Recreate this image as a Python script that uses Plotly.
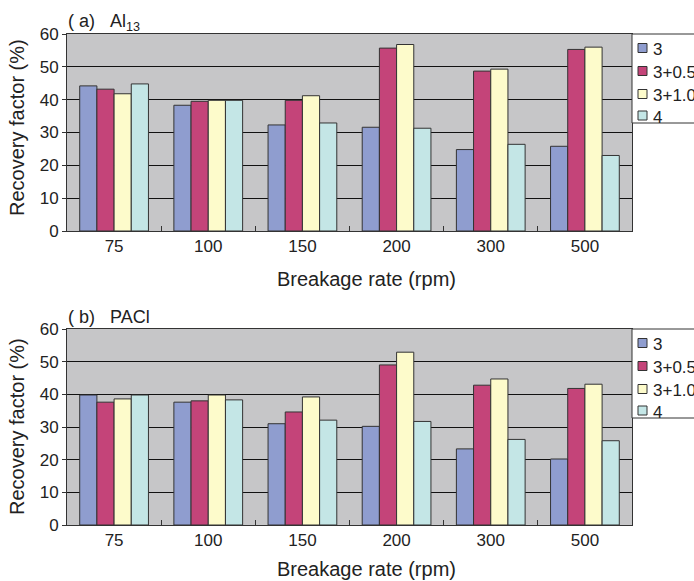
import plotly.graph_objects as go

categories = ["75", "100", "150", "200", "300", "500"]
series_names = ["3", "3+0.5", "3+1.0", "4"]
colors = ["#8f9dcf", "#c44479", "#fdfbcb", "#c4e6e6"]

al13_3 = [44.2, 38.3, 32.3, 31.6, 24.8, 25.8]
al13_305 = [43.2, 39.5, 39.8, 55.7, 48.7, 55.3]
al13_310 = [41.8, 39.8, 41.2, 56.8, 49.3, 56.0]
al13_4 = [44.8, 39.8, 32.9, 31.3, 26.4, 23.0]

pacl_3 = [39.8, 37.6, 31.0, 30.2, 23.3, 20.2]
pacl_305 = [37.6, 38.0, 34.6, 49.0, 42.8, 41.8]
pacl_310 = [38.6, 39.8, 39.2, 52.9, 44.7, 43.1]
pacl_4 = [39.8, 38.3, 32.1, 31.7, 26.2, 25.8]

W, H = 694, 581
ML, MR, MT, MB = 67, 62, 34, 56
PW = W - ML - MR
PH = H - MT - MB


def px(x):
    return (x - ML) / PW


def py(y):
    return (H - MB - y) / PH


top_dom = [py(231), 1.0]
bot_dom = [0.0, py(329)]

fig = go.Figure()
panels = [
    ("x", "y", [al13_3, al13_305, al13_310, al13_4]),
    ("x2", "y2", [pacl_3, pacl_305, pacl_310, pacl_4]),
]
for xa, ya, vals in panels:
    for name, v, c in zip(series_names, vals, colors):
        fig.add_trace(go.Bar(
            x=categories, y=v, name=name, xaxis=xa, yaxis=ya,
            marker=dict(color=c, line=dict(color="#333333", width=1)),
            showlegend=False,
        ))

font_family = "Liberation Sans, Arial, sans-serif"
TXT = "#222222"
axis_common = dict(
    showline=True, linecolor="#333333", linewidth=1, mirror=True,
    tickfont=dict(family=font_family, size=17, color=TXT),
)
xcommon = dict(axis_common, type="category", ticks="inside", ticklen=5,
               tickson="boundaries", tickcolor="#333333", showgrid=False)
ycommon = dict(axis_common, range=[0, 60], dtick=10, ticks="outside", ticklen=4,
               tickcolor="#333333", showgrid=True, gridcolor="#111111",
               gridwidth=1, zeroline=False)

fig.update_layout(
    width=W, height=H,
    margin=dict(l=ML, r=MR, t=MT, b=MB),
    paper_bgcolor="white", plot_bgcolor="#c6c6c8",
    barmode="group", bargap=0.27, bargroupgap=0,
    font=dict(family=font_family, color=TXT),
    xaxis=dict(xcommon, domain=[0, 1], anchor="y"),
    yaxis=dict(ycommon, domain=top_dom, anchor="x"),
    xaxis2=dict(xcommon, domain=[0, 1], anchor="y2"),
    yaxis2=dict(ycommon, domain=bot_dom, anchor="x2"),
)

ann = []
shapes = []
NB = "\u00a0"
panel_titles = ["(" + NB + "a)" + NB * 3 + "Al<sub>13</sub>",
                "(" + NB + "b)" + NB * 3 + "PACl"]
title_y = [23, 317]
ytitle_y = [128, 427]
xtitle_y = [279, 569]
offsets = [0, 295]
for i, (title, off) in enumerate(zip(panel_titles, offsets)):
    ann.append(dict(text=title, x=px(66), y=py(title_y[i]), xref="paper", yref="paper",
                    xanchor="left", yanchor="middle", showarrow=False,
                    font=dict(size=18, family=font_family, color=TXT)))
    ann.append(dict(text="Breakage rate (rpm)", x=px(366), y=py(xtitle_y[i]), xref="paper",
                    yref="paper", xanchor="center", yanchor="middle", showarrow=False,
                    font=dict(size=20, family=font_family, color=TXT)))
    ann.append(dict(text="Recovery factor (%)", x=px(17), y=py(ytitle_y[i]), xref="paper",
                    yref="paper", xanchor="center", yanchor="middle", showarrow=False,
                    textangle=-90,
                    font=dict(size=20, family=font_family, color=TXT)))
    # legend box
    shapes.append(dict(type="rect", xref="paper", yref="paper",
                       x0=px(632), x1=px(720), y0=py(123 + off), y1=py(34 + off),
                       fillcolor="white", line=dict(color="#333333", width=1), layer="above"))
    centers = [48, 71, 94, 115.5]
    for name, c, cy in zip(series_names, colors, centers):
        shapes.append(dict(type="rect", xref="paper", yref="paper",
                           x0=px(638), x1=px(647), y0=py(cy + 4.5 + off), y1=py(cy - 4.5 + off),
                           fillcolor=c, line=dict(color="#333333", width=1), layer="above"))
        ann.append(dict(text=name, x=px(651), y=py(cy + off + 1.5), xref="paper", yref="paper",
                        xanchor="left", yanchor="middle", showarrow=False,
                        font=dict(size=17, family=font_family, color=TXT)))

fig.update_layout(annotations=ann, shapes=shapes)
fig.write_html(
    "out.html",
    config={"displayModeBar": False},
    post_script="document.body.style.margin='0';document.body.style.overflow='hidden';",
)
